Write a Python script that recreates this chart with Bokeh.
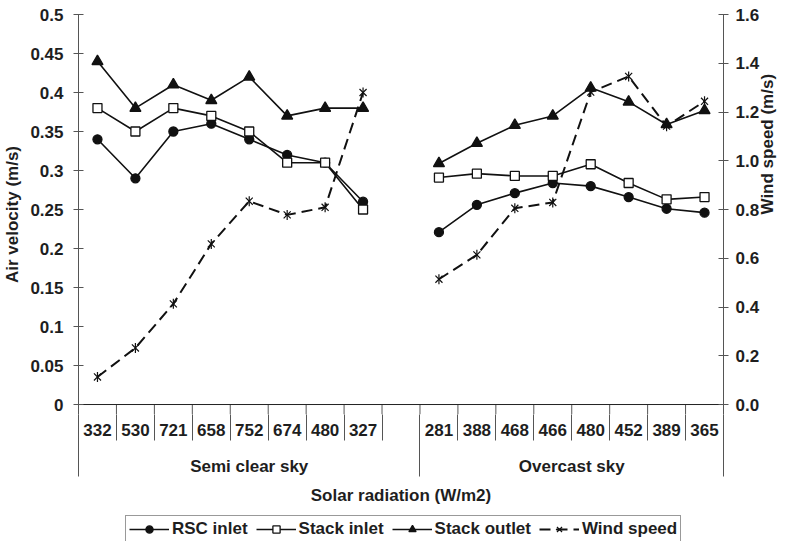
import numpy as np
from bokeh.plotting import figure
from bokeh.layouts import column
from bokeh.models import (Range1d, LinearAxis, FixedTicker, CustomJSTickFormatter,
                          Legend, LegendItem)
from bokeh.embed import file_html
from bokeh.resources import INLINE

# ---------------- data ----------------
semi_radiation = ["332", "530", "721", "658", "752", "674", "480", "327"]
overcast_radiation = ["281", "388", "468", "466", "480", "452", "389", "365"]
sky_groups = ["Semi clear sky", "Overcast sky"]
x_title = "Solar radiation (W/m2)"
left_title = "Air velocity (m/s)"
right_title = "Wind speed (m/s)"

# air velocity (m/s), left axis
rsc_inlet_semi = [0.34, 0.29, 0.35, 0.36, 0.34, 0.32, 0.31, 0.26]
rsc_inlet_over = [0.221, 0.256, 0.271, 0.284, 0.280, 0.266, 0.251, 0.246]
stack_inlet_semi = [0.38, 0.35, 0.38, 0.37, 0.35, 0.31, 0.31, 0.25]
stack_inlet_over = [0.291, 0.296, 0.293, 0.293, 0.308, 0.284, 0.263, 0.266]
stack_outlet_semi = [0.44, 0.38, 0.41, 0.39, 0.42, 0.37, 0.38, 0.38]
stack_outlet_over = [0.309, 0.335, 0.358, 0.370, 0.406, 0.388, 0.359, 0.377]
# wind speed (m/s), right axis
wind_semi = [0.113, 0.232, 0.413, 0.659, 0.834, 0.778, 0.809, 1.28]
wind_over = [0.514, 0.614, 0.805, 0.829, 1.282, 1.346, 1.142, 1.244]

left_ticks = [0, 0.05, 0.1, 0.15, 0.2, 0.25, 0.3, 0.35, 0.4, 0.45, 0.5]
right_ticks = [0.0, 0.2, 0.4, 0.6, 0.8, 1.0, 1.2, 1.4, 1.6]
left_max = 0.5
right_max = 1.6

# ---------------- layout ----------------
FONT = "Liberation Sans"
FS = "17px"
TXT = "#1e1e1e"
AX = "#555555"
W = 789
H_TOP, H_LEG = 507, 34
FL, FR, FT, FB = 77, 728, 14, 415   # frame edges (px)
Y0 = 405                            # zero line (px)
PPU = (Y0 - FT) / left_max          # px per left-axis unit
ymin = -(FB - Y0) / PPU
ratio = right_max / left_max

gap = len(semi_radiation) + 1
n_slots = gap + len(overcast_radiation)
semi_x = [i + 0.5 for i in range(len(semi_radiation))]
over_x = [gap + i + 0.5 for i in range(len(overcast_radiation))]
slot_labels = semi_radiation + [""] + overcast_radiation

p = figure(width=W, height=H_TOP, x_range=Range1d(0, n_slots), y_range=Range1d(ymin, left_max),
           output_backend="svg", toolbar_location=None, x_axis_location=None,
           min_border_left=FL, min_border_right=W - FR, min_border_top=FT,
           min_border_bottom=H_TOP - FB)
p.extra_y_ranges = {"wind": Range1d(ymin * ratio, right_max)}
p.grid.visible = False
p.outline_line_color = None
p.background_fill_color = "white"


def style_text(ax):
    ax.major_label_text_font = FONT
    ax.major_label_text_font_style = "bold"
    ax.major_label_text_font_size = FS
    ax.major_label_text_color = TXT
    ax.axis_label_text_font = FONT
    ax.axis_label_text_font_style = "bold"
    ax.axis_label_text_font_size = FS
    ax.axis_label_text_color = TXT


def style_axis(ax):
    ax.major_tick_in = 5
    ax.major_tick_out = 5
    ax.minor_tick_line_color = None
    ax.axis_line_color = AX
    ax.major_tick_line_color = AX
    style_text(ax)


lax = p.yaxis[0]
lax.ticker = FixedTicker(ticks=left_ticks)
lax.formatter = CustomJSTickFormatter(code="return String(Math.round(tick*100)/100);")
style_axis(lax)
lax.major_label_standoff = 10
lax.axis_label = left_title
lax.axis_label_standoff = 5

rax = LinearAxis(y_range_name="wind", ticker=FixedTicker(ticks=right_ticks),
                 formatter=CustomJSTickFormatter(code="return tick.toFixed(1);"))
style_axis(rax)
rax.major_label_standoff = 7
rax.axis_label = right_title
rax.axis_label_standoff = 5
if "axis_label_orientation" in rax.properties():
    rax.axis_label_orientation = np.pi / 2
p.add_layout(rax, "right")

# ------------- category table below the zero line -------------
bounds_all = list(range(0, n_slots + 1))
group_bounds = [0, gap, n_slots]
inner = [b for b in bounds_all if 0 < b < n_slots]
p.segment(x0=inner, y0=0, x1=inner, y1=ymin, line_color=AX, line_width=1)
p.segment(x0=[0], y0=[0], x1=[n_slots], y1=[0], line_color="#222222", line_width=1)

# level 1: radiation values
ax1 = LinearAxis(ticker=FixedTicker(ticks=semi_x + over_x, minor_ticks=bounds_all),
                 formatter=CustomJSTickFormatter(args=dict(labels=slot_labels),
                                                 code="return labels[Math.floor(tick)] || '';"))
ax1.axis_line_color = None
ax1.major_tick_line_color = None
ax1.major_tick_in = 0
ax1.major_tick_out = 0
ax1.minor_tick_in = 0
ax1.minor_tick_out = 26
ax1.minor_tick_line_color = AX
ax1.major_label_standoff = -17
style_text(ax1)
p.add_layout(ax1, "below")

# level 2: sky groups + x title
ax2 = LinearAxis(ticker=FixedTicker(ticks=[gap / 2, (gap + n_slots) / 2], minor_ticks=group_bounds),
                 formatter=CustomJSTickFormatter(args=dict(groups=sky_groups, gap=gap),
                                                 code="return tick < gap ? groups[0] : groups[1];"))
ax2.axis_line_color = None
ax2.major_tick_line_color = None
ax2.major_tick_in = 0
ax2.major_tick_out = 0
ax2.minor_tick_in = 0
ax2.minor_tick_out = 38
ax2.minor_tick_line_color = AX
ax2.major_label_standoff = -20
style_text(ax2)
ax2.axis_label = x_title
ax2.axis_label_standoff = 7
p.add_layout(ax2, "below")

# ------------- series -------------
LC = "#111111"

# legend strip (separate figure under the chart)
q = figure(width=W, height=H_LEG, x_range=Range1d(0, 1), y_range=Range1d(0, 1),
           output_backend="svg", toolbar_location=None, x_axis_location=None,
           y_axis_location=None, min_border_left=FL, min_border_right=W - FR,
           min_border_top=0, min_border_bottom=0)
q.grid.visible = False
q.outline_line_color = None
items = []
key_x = [-5.0, -4.0]   # legend-key renderers sit outside the strip's visible range
key_y = [-5.0, -5.0]


def draw_marks(fig, xs, ys, marker, size, fill, rng, dash, lw):
    kw = {} if fig is q else {"y_range_name": rng}
    ln = fig.line(xs, ys, line_color=LC, line_width=lw, line_dash=dash, **kw)
    sc = []
    if marker == "star6":
        sc.append(fig.scatter(xs, ys, marker="x", size=size, line_color=LC, line_width=1.2, **kw))
        sc.append(fig.scatter(xs, ys, marker="dash", angle=np.pi / 2, size=size, line_color=LC,
                              line_width=1.2, **kw))
    else:
        sc.append(fig.scatter(xs, ys, marker=marker, size=size, line_color=LC, fill_color=fill,
                              line_width=1.3, **kw))
    return [ln] + sc


def add_series(label, semi_vals, over_vals, marker, size, fill, rng="default", dash="solid", lw=1.6):
    for xs, ys in ((semi_x, semi_vals), (over_x, over_vals)):
        draw_marks(p, xs, ys, marker, size, fill, rng, dash, lw)
    key = draw_marks(q, key_x, key_y, marker, size, fill, rng, dash, lw)
    items.append(LegendItem(label=label, renderers=key))


add_series("RSC inlet", rsc_inlet_semi, rsc_inlet_over, "circle", 9, LC)
add_series("Stack inlet", stack_inlet_semi, stack_inlet_over, "square", 9, "white")
add_series("Stack outlet", stack_outlet_semi, stack_outlet_over, "triangle", 11, LC)
add_series("Wind speed", wind_semi, wind_over, "star6", 10, None, rng="wind", dash="11 6", lw=2)

legend = Legend(items=items, orientation="horizontal", location=(47, -2),
                label_text_font=FONT, label_text_font_style="bold", label_text_font_size=FS,
                label_text_color=TXT, glyph_width=40, glyph_height=18, label_height=18,
                label_standoff=3, spacing=8, padding=3, margin=0,
                border_line_color="#333333", border_line_width=1,
                background_fill_color="white", background_fill_alpha=1)
q.add_layout(legend)

layout = column(p, q, spacing=0)
open("out.html", "w").write(file_html(layout, INLINE))
